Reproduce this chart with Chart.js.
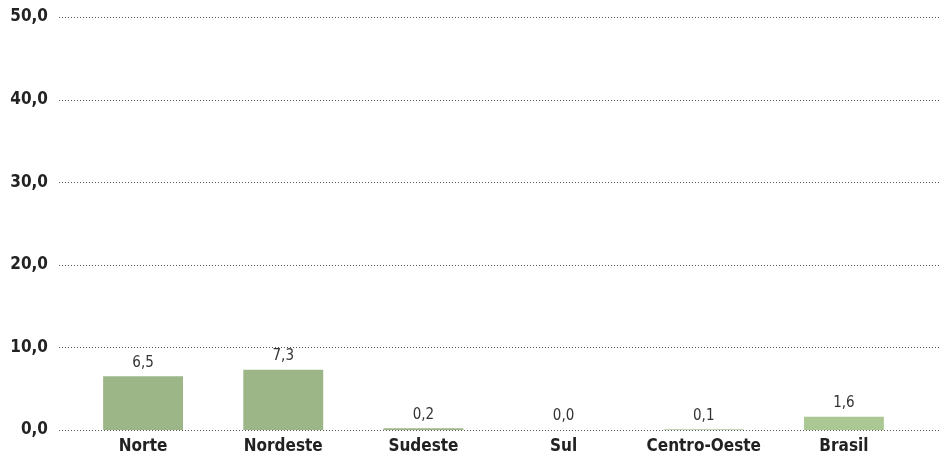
<!DOCTYPE html>
<html lang="pt">
<head>
    <meta charset="UTF-8">
    <title>Gráfico</title>
    <script src="https://cdn.jsdelivr.net/npm/chart.js"></script>
    <style>
        html, body { margin: 0; padding: 0; background: #fff; }
    </style>
</head>
<body>
    <canvas id="regChart" width="950" height="458"></canvas>
    <script>
    const regioes = ['Norte', 'Nordeste', 'Sudeste', 'Sul', 'Centro-Oeste', 'Brasil'];
    const valores = [6.5, 7.3, 0.2, 0.0, 0.1, 1.6];
    const cores = ['#9db687', '#9db687', '#9db687', '#9db687', '#abc794', '#abc794'];
    const yTicks = [0, 10, 20, 30, 40, 50];

    const fmt = v => v.toFixed(1).replace('.', ',');
    const FONT = "'Liberation Sans Narrow', 'DejaVu Sans Condensed', sans-serif";

    // linhas pontilhadas de fundo, um pouco mais largas que a área do gráfico
    const gradePontilhada = {
      id: 'gradePontilhada',
      beforeDatasetsDraw(chart) {
        const ctx = chart.ctx;
        const y = chart.scales.y;
        ctx.save();
        ctx.strokeStyle = '#555';
        ctx.lineWidth = 1;
        ctx.setLineDash([1, 2]);
        yTicks.forEach(t => {
          const py = Math.round(y.getPixelForValue(t)) + 0.5;
          ctx.beginPath();
          ctx.moveTo(59, py);
          ctx.lineTo(940, py);
          ctx.stroke();
        });
        ctx.restore();
      }
    };

    // valores acima das barras
    const rotulos = {
      id: 'rotulos',
      afterDatasetsDraw(chart) {
        const ctx = chart.ctx;
        const meta = chart.getDatasetMeta(0);
        ctx.save();
        ctx.fillStyle = '#333';
        ctx.font = "15px " + FONT;
        ctx.textAlign = 'center';
        ctx.textBaseline = 'bottom';
        meta.data.forEach((bar, i) => {
          ctx.fillText(fmt(valores[i]), bar.x, bar.y - 6);
        });
        ctx.restore();
      }
    };

    const ctx = document.getElementById('regChart').getContext('2d');
    new Chart(ctx, {
      type: 'bar',
      data: {
        labels: regioes,
        datasets: [{
          data: valores,
          backgroundColor: cores,
          barPercentage: 0.57,
          categoryPercentage: 1.0
        }]
      },
      options: {
        responsive: false,
        animation: false,
        layout: { padding: { top: 17, right: 36, left: 0, bottom: 0 } },
        plugins: { legend: { display: false }, tooltip: { enabled: false } },
        scales: {
          x: {
            grid: { display: false, drawTicks: false },
            border: { display: false },
            ticks: {
              color: '#222',
              padding: 6,
              font: { family: FONT, size: 17, weight: 'bold' }
            },
            afterFit(s) { s.height = 28; }
          },
          y: {
            min: 0,
            max: 50,
            grid: { display: false, drawTicks: false },
            border: { display: false },
            afterBuildTicks(s) { s.ticks = yTicks.map(v => ({ value: v })); },
            afterFit(s) {
              s.width = 73;
              s.paddingTop = 0;
              s.paddingBottom = 0;
            },
            ticks: {
              color: '#222',
              padding: 25,
              font: { family: FONT, size: 17, weight: 'bold' },
              callback: v => fmt(v)
            }
          }
        }
      },
      plugins: [gradePontilhada, rotulos]
    });
    </script>
</body>
</html>
